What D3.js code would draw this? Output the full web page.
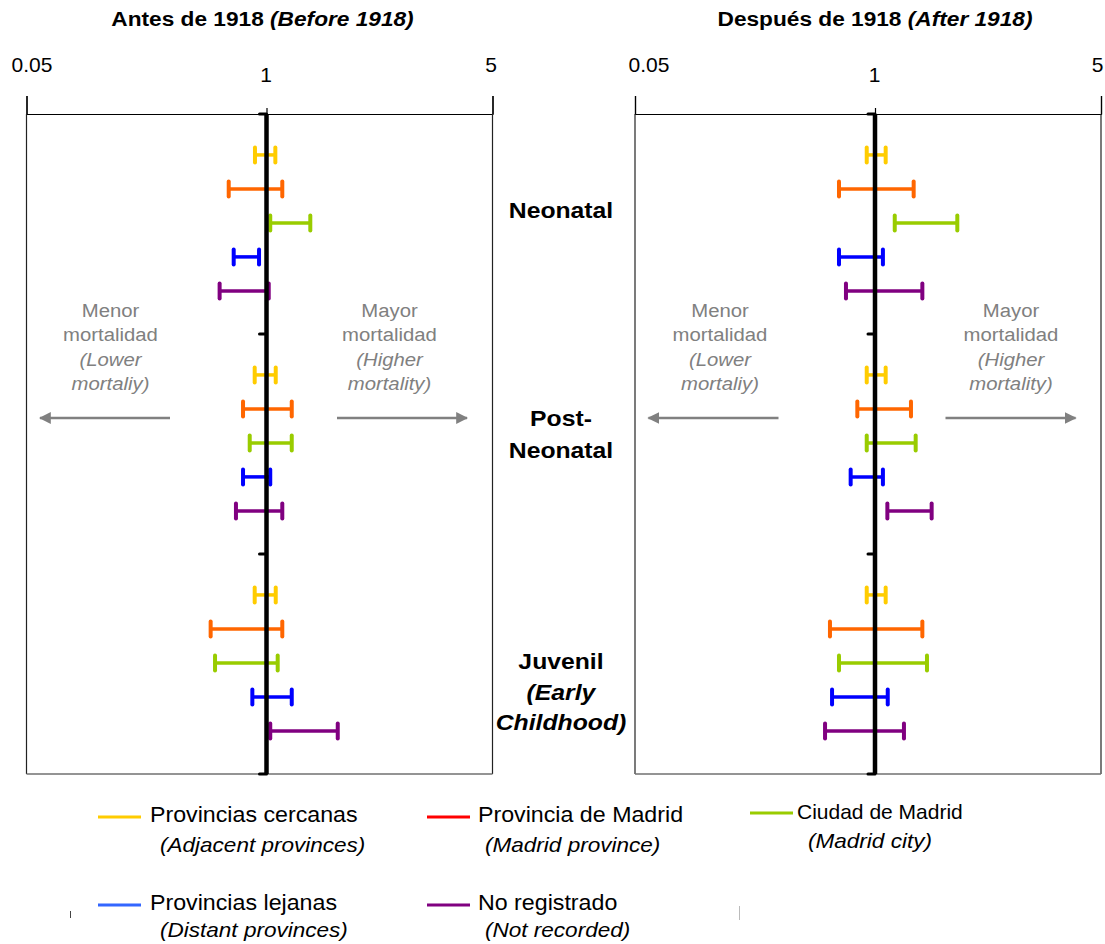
<!DOCTYPE html>
<html><head><meta charset="utf-8">
<script src="https://cdn.jsdelivr.net/npm/d3@7"></script>
<style>
html,body{margin:0;padding:0;background:#fff;}
svg{display:block;font-family:"Liberation Sans",Arial,sans-serif;}
</style></head>
<body>
<svg id="chart" width="1105" height="944"></svg>
<script>
// ---- data ----
const categories = ["Neonatal", "Post-Neonatal", "Juvenil"];
const seriesNames = ["Provincias cercanas", "Provincia de Madrid", "Ciudad de Madrid", "Provincias lejanas", "No registrado"];
const seriesNamesEn = ["(Adjacent provinces)", "(Madrid province)", "(Madrid city)", "(Distant provinces)", "(Not recorded)"];
const seriesColors = ["#FFCC00", "#FF6600", "#99CC00", "#0000FF", "#800080"];
const legendColors = ["#FFCC00", "#FF0000", "#99CC00", "#3366FF", "#800080"];
// confidence intervals [category][series]
const beforeLow  = [[0.866, 0.624, 1.027, 0.664, 0.557], [0.863, 0.746, 0.811, 0.746, 0.683], [0.863, 0.498, 0.526, 0.838, 1.027]];
const beforeHigh = [[1.065, 1.119, 1.366, 0.911, 1.016], [1.068, 1.197, 1.197, 1.027, 1.119], [1.068, 1.119, 1.083, 1.197, 1.661]];
const afterLow   = [[0.902, 0.638, 1.151, 0.638, 0.696], [0.902, 0.802, 0.902, 0.738, 1.092], [0.902, 0.570, 0.638, 0.585, 0.536]];
const afterHigh  = [[1.079, 1.317, 1.797, 1.058, 1.401], [1.079, 1.292, 1.336, 1.058, 1.497], [1.079, 1.401, 1.448, 1.095, 1.229]];
const tickValues = [0.05, 1, 5];
const tickLabels = ["0.05", "1", "5"];
const panelTitles = [["Antes de 1918 ", "(Before 1918)"], ["Después de 1918 ", "(After 1918)"]];

// ---- layout ----
const svg = d3.select("#chart");
const FONT = '"Liberation Sans",Arial,sans-serif';
const topY = 114, botY = 774;
const x = d3.scaleLog().domain([0.05, 1, 5]).range([0, 240, 466]);
const y = d3.scaleLinear().domain([0, 3]).range([topY, botY]);
const rowPos = d3.scalePoint().domain(seriesNames).range([0.186, 0.804]);

// text helper with slight horizontal stretch (the reference glyphs are wide)
function stext(parent, tx, ty, sx, opts) {
  const t = parent.append("text")
    .attr("transform", `translate(${tx},${ty}) scale(${sx},1)`)
    .attr("x", 0).attr("y", 0)
    .attr("font-size", opts.size).attr("fill", opts.fill || "#000")
    .attr("text-anchor", opts.anchor || "start")
    .attr("font-weight", opts.bold ? "bold" : "normal")
    .attr("font-style", opts.italic ? "italic" : "normal");
  if (opts.text !== undefined) t.text(opts.text);
  return t;
}

const panels = [
  {ox: 26.5, low: beforeLow, high: beforeHigh, title: panelTitles[0], titleDx: -4, labDx: [5, -1, -2],
   menorX: 84, mayorX: 363},
  {ox: 635, low: afterLow, high: afterHigh, title: panelTitles[1], titleDx: 0, labDx: [13.5, -1, -4],
   menorX: 85, mayorX: 376}
];

const defs = svg.append("defs");
defs.append("marker").attr("id", "ah").attr("viewBox", "0 0 10 10")
  .attr("refX", 9).attr("refY", 5).attr("markerWidth", 5).attr("markerHeight", 5)
  .attr("markerUnits", "strokeWidth").attr("orient", "auto")
  .append("path").attr("d", "M0,0 L10,5 L0,10 z").attr("fill", "#808080");

panels.forEach(p => {
  const g = svg.append("g").attr("transform", `translate(${p.ox},0)`);
  // title
  const t = stext(g, x(1) + p.titleDx, 26, 1.08, {size: 21, bold: true, anchor: "middle"});
  t.append("tspan").text(p.title[0]);
  t.append("tspan").attr("font-style", "italic").text(p.title[1]);

  // axis
  const ax = g.append("g").attr("transform", `translate(0,${topY})`)
    .call(d3.axisTop(x).tickValues(tickValues).tickFormat((d, i) => tickLabels[i])
      .tickSizeInner(18).tickSizeOuter(18));
  ax.select(".domain").attr("stroke", "#000").attr("stroke-width", 1.2);
  ax.selectAll(".tick line").attr("stroke", "#000").attr("stroke-width", 1.2)
    .attr("y2", d => d === 1 ? -6 : -18);
  ax.selectAll(".tick text").attr("dy", null).attr("fill", "#000")
    .attr("font-size", 21).attr("font-family", FONT)
    .attr("y", d => d === 1 ? -32 : -42)
    .attr("x", (d, i) => p.labDx[i]);

  // box sides and bottom
  g.append("line").attr("x1", x(0.05)).attr("x2", x(0.05)).attr("y1", topY).attr("y2", botY)
    .attr("stroke", "#222").attr("stroke-width", 1.2);
  g.append("line").attr("x1", x(5)).attr("x2", x(5)).attr("y1", topY).attr("y2", botY)
    .attr("stroke", "#222").attr("stroke-width", 1.2);
  g.append("line").attr("x1", x(0.05)).attr("x2", x(5)).attr("y1", botY).attr("y2", botY)
    .attr("stroke", "#707070").attr("stroke-width", 1.5);

  // annotations
  const ann = [
    {cx: p.menorX, lines: [["Menor", false], ["mortalidad", false], ["(Lower", true], ["mortaliy)", true]]},
    {cx: p.mayorX, lines: [["Mayor", false], ["mortalidad", false], ["(Higher", true], ["mortality)", true]]}
  ];
  ann.forEach(a => {
    a.lines.forEach((l, i) => {
      stext(g, a.cx, 317 + i * 24.3, 1.07, {size: 19, fill: "#808080", anchor: "middle", italic: l[1], text: l[0]});
    });
  });
  // arrows
  g.append("line").attr("x1", 143.5).attr("x2", 13.5).attr("y1", 418).attr("y2", 418)
    .attr("stroke", "#808080").attr("stroke-width", 2.4).attr("marker-end", "url(#ah)");
  g.append("line").attr("x1", 310.5).attr("x2", 440.5).attr("y1", 418).attr("y2", 418)
    .attr("stroke", "#808080").attr("stroke-width", 2.4).attr("marker-end", "url(#ah)");

  // error bars
  categories.forEach((c, ci) => {
    seriesNames.forEach((s, si) => {
      const yy = y(ci + rowPos(s));
      const lo = x(p.low[ci][si]), hi = x(p.high[ci][si]);
      const col = seriesColors[si];
      g.append("line").attr("x1", lo).attr("x2", hi).attr("y1", yy).attr("y2", yy)
        .attr("stroke", col).attr("stroke-width", 3.5);
      [lo, hi].forEach(xx => {
        g.append("line").attr("x1", xx).attr("x2", xx).attr("y1", yy - 7.5).attr("y2", yy + 7.5)
          .attr("stroke", col).attr("stroke-width", 4).attr("stroke-linecap", "round");
      });
    });
  });

  // reference line at 1
  g.append("line").attr("x1", x(1)).attr("x2", x(1)).attr("y1", topY).attr("y2", botY)
    .attr("stroke", "#000").attr("stroke-width", 4.5);
  // small separators
  d3.range(0, 4).forEach(k => {
    g.append("line").attr("x1", x(1) - 7).attr("x2", x(1)).attr("y1", y(k)).attr("y2", y(k))
      .attr("stroke", "#000").attr("stroke-width", 3).attr("stroke-linecap", "round");
  });
});

// category labels in the middle
const midX = 561;
const catLines = [
  [["Neonatal", false, 218]],
  [["Post-", false, 426], ["Neonatal", false, 458]],
  [["Juvenil", false, 669], ["(Early", true, 700], ["Childhood)", true, 730]]
];
catLines.forEach(lines => lines.forEach(l => {
  stext(svg, midX, l[2], 1.1, {size: 22.5, bold: true, italic: l[1], anchor: "middle", text: l[0]});
}));

// legend
const legendPos = [
  {lx: 98, ly: 817, tx: 150, ty: 822, ex: 160, ey: 852, sx: 1.08, size: 21.5},
  {lx: 427, ly: 817, tx: 478, ty: 822, ex: 485, ey: 852, sx: 1.08, size: 21.5},
  {lx: 750, ly: 813, tx: 797, ty: 819, ex: 808, ey: 848, sx: 1.0, size: 21},
  {lx: 98, ly: 905, tx: 150, ty: 910, ex: 160, ey: 937, sx: 1.08, size: 21.5},
  {lx: 427, ly: 905, tx: 478, ty: 910, ex: 485, ey: 937, sx: 1.08, size: 21.5}
];
seriesNames.forEach((s, i) => {
  const lp = legendPos[i];
  svg.append("line").attr("x1", lp.lx).attr("x2", lp.lx + 43).attr("y1", lp.ly).attr("y2", lp.ly)
    .attr("stroke", legendColors[i]).attr("stroke-width", 3);
  stext(svg, lp.tx, lp.ty, lp.sx, {size: lp.size, text: s});
  stext(svg, lp.ex, lp.ey, 1.1, {size: 20.5, italic: true, text: seriesNamesEn[i]});
});
// small stray marks
svg.append("line").attr("x1", 70.5).attr("x2", 70.5).attr("y1", 911).attr("y2", 918).attr("stroke", "#444");
svg.append("line").attr("x1", 739.5).attr("x2", 739.5).attr("y1", 906).attr("y2", 920).attr("stroke", "#bbb");
</script>
</body></html>
